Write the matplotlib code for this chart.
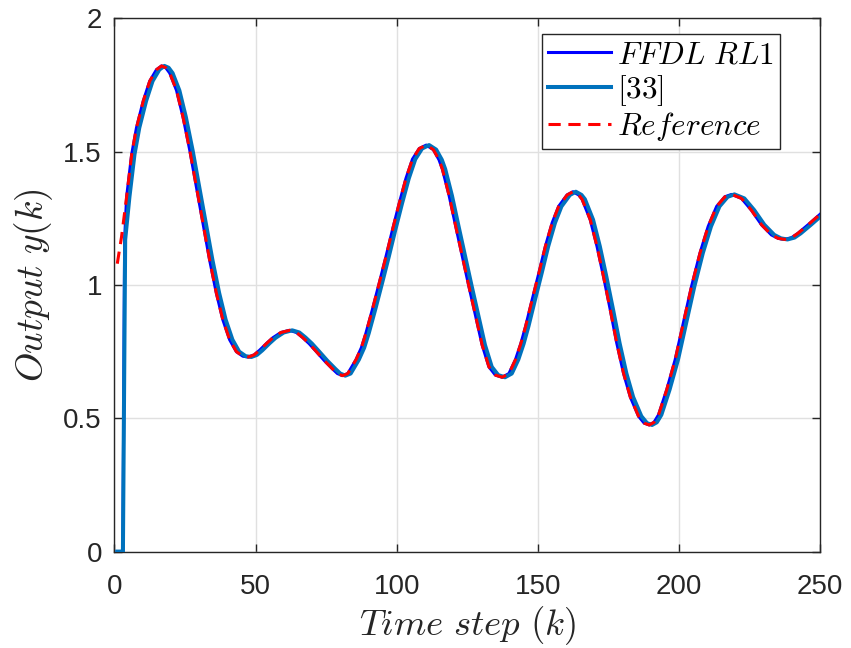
import matplotlib
matplotlib.use("Agg")
import matplotlib.pyplot as plt

# Reference trajectory
ref_k = [1, 2.5, 4.3, 6.1, 7.8, 10.2, 12.5, 14.9, 16.7, 18.2, 19.6, 22, 24.3, 26.7, 29, 31.4,
         33.7, 36.1, 38.4, 40.8, 43.2, 45.5, 47.5, 49.5, 51.4, 54, 56.1, 59, 62, 64.5, 66.7,
         69, 71.4, 74.5, 77.3, 79, 80.8, 82.7, 85.6, 87.5, 89.1, 91.4, 93.8, 96.2, 98.5,
         100.9, 103.3, 105.6, 108, 110.5, 113, 115, 116.2, 118.6, 120.9, 123.3, 125.6, 128,
         130.3, 132.7, 135, 137.4, 139.8, 142.1, 144, 145.7, 148, 150.4, 152.7, 155.1, 157.4,
         160.4, 162.5, 164.5, 165.7, 168.6, 171, 173.3, 175.7, 178, 180.4, 182.8, 185.7,
         187.7, 189.5, 191.2, 192.8, 195.7, 198.7, 201.6, 204.5, 207.5, 210.4, 213.4, 216.3,
         218.7, 222.2, 225.7, 229.3, 232.8, 235.2, 237.5, 240, 242.2, 245.8, 250]
ref_y = [1.08, 1.18, 1.33, 1.49, 1.59, 1.69, 1.765, 1.808, 1.822, 1.815, 1.795, 1.73, 1.63,
         1.505, 1.37, 1.23, 1.095, 0.97, 0.87, 0.795, 0.75, 0.733, 0.73, 0.738, 0.755, 0.782,
         0.802, 0.822, 0.83, 0.822, 0.803, 0.78, 0.752, 0.715, 0.685, 0.668, 0.66, 0.668,
         0.72, 0.765, 0.819, 0.908, 1.006, 1.106, 1.206, 1.306, 1.40, 1.472, 1.512, 1.525,
         1.508, 1.47, 1.435, 1.335, 1.222, 1.106, 0.995, 0.883, 0.775, 0.693, 0.662, 0.654,
         0.668, 0.72, 0.78, 0.845, 0.944, 1.045, 1.145, 1.233, 1.295, 1.338, 1.35, 1.338,
         1.322, 1.245, 1.145, 1.032, 0.907, 0.782, 0.669, 0.58, 0.508, 0.482, 0.475, 0.485,
         0.513, 0.607, 0.72, 0.858, 0.995, 1.12, 1.22, 1.295, 1.331, 1.34, 1.325, 1.281,
         1.226, 1.188, 1.175, 1.171, 1.178, 1.194, 1.226, 1.265]

# FFDL RL1: starts at zero, then coincides with the reference
ffdl_k = [1, 2, 3, 3.6] + ref_k[2:]
ffdl_y = [0, 0, 0, 1.17] + ref_y[2:]

# [33]: starts at zero, then lags the reference by about one step
m33_k = [1, 2, 3, 3.8, 5.3, 7.1, 8.8, 11.2, 13.5, 15.9, 17.7, 19.2, 20.6, 23, 25.3, 27.7,
         30, 32.4, 34.7, 37.1, 39.4, 41.8, 44.2, 46.5, 48.5, 50.5, 52.4, 55, 57.1, 60, 63,
         65.5, 67.7, 70, 72.4, 75.5, 78.3, 80, 81.8, 83.7, 86.6, 88.5, 90.1, 92.4, 94.8,
         97.2, 99.5, 101.9, 104.3, 106.6, 109, 111.5, 114, 116, 117.2, 119.6, 121.9, 124.3,
         126.6, 129, 131.3, 133.7, 136, 138.4, 140.8, 143.1, 145, 146.7, 149, 151.4, 153.7,
         156.1, 158.4, 161.4, 163.5, 165.5, 166.7, 169.6, 172, 174.3, 176.7, 179, 181.4,
         183.8, 186.7, 188.7, 190.5, 192.2, 193.8, 196.7, 199.7, 202.6, 205.5, 208.5, 211.4,
         214.4, 217.3, 219.7, 223.2, 226.7, 230.3, 233.8, 236.2, 238.5, 241, 243.2, 246.8,
         251]
m33_y = [0, 0, 0, 1.17] + ref_y[2:]

x_ticks = [0, 50, 100, 150, 200, 250]
y_ticks = [0, 0.5, 1, 1.5, 2]
y_tick_labels = ["0", "0.5", "1", "1.5", "2"]

plt.rcParams['font.family'] = ['Liberation Sans', 'DejaVu Sans']
plt.rcParams['mathtext.fontset'] = 'cm'

fig = plt.figure(figsize=(8.51, 6.48), dpi=100)
ax = fig.add_axes([0.1345, 0.1488, 0.829, 0.8227])

ax.plot(ffdl_k, ffdl_y, color='#0000FF', lw=2.2, label=r'$FFDL\ RL1$', zorder=3)
ax.plot(m33_k, m33_y, color='#0072BD', lw=2.9, label=r'$[33]$', zorder=4)
ax.plot(ref_k, ref_y, color='#FF0000', lw=2.2, dashes=(4, 2.5), label=r'$Reference$', zorder=5)

ax.set_xlim(0, 250)
ax.set_ylim(0, 2)
ax.set_xticks(x_ticks)
ax.set_yticks(y_ticks)
ax.set_yticklabels(y_tick_labels)
ax.grid(True, color='#E0E0E0', lw=1.0)
ax.set_axisbelow(True)
ax.tick_params(direction='in', length=6, width=1, colors='#262626', labelsize=20,
               top=True, right=True)
ax.tick_params(axis='x', pad=16)
ax.tick_params(axis='y', pad=9)
for s in ax.spines.values():
    s.set_color('#262626')
    s.set_linewidth(1.0)

ax.set_xlabel(r'$Time\ step\ (k)$', fontsize=26.5, color='#262626', labelpad=3)
ax.set_ylabel(r'$Output\ y(k)$', fontsize=27, color='#262626', labelpad=6)

leg = ax.legend(loc='upper right', bbox_to_anchor=(0.943, 0.971), borderaxespad=0,
                fontsize=22.5, handlelength=2.0, handletextpad=0.2, labelspacing=0.08,
                borderpad=0.2, fancybox=False, framealpha=1)
leg.get_frame().set_edgecolor('#262626')
leg.get_frame().set_linewidth(1.0)

fig.savefig('out.png', dpi=100)
